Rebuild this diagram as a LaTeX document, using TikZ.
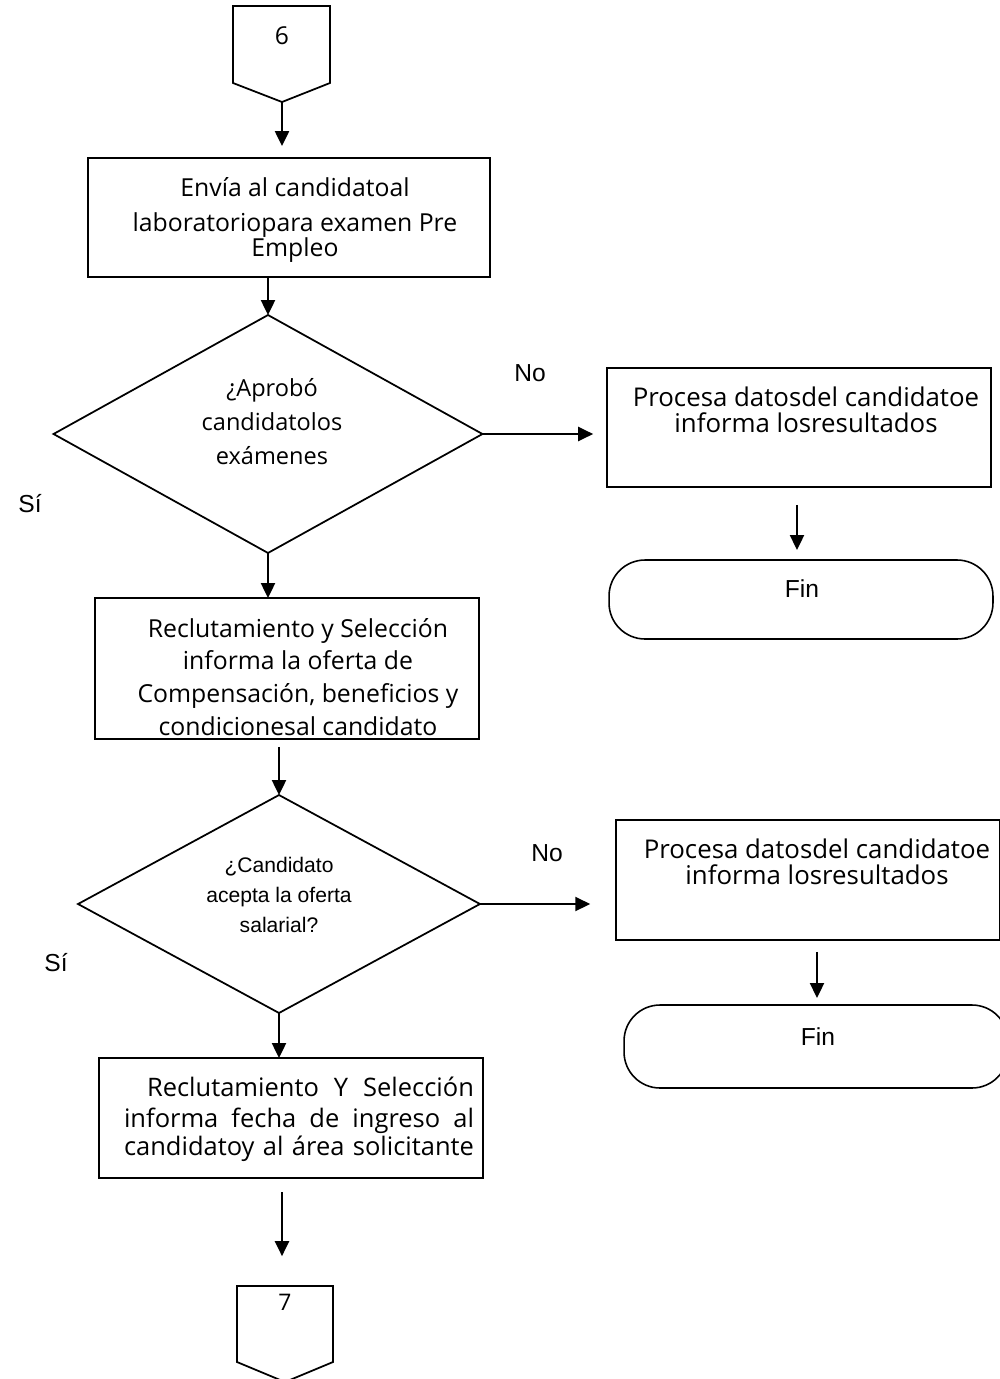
\documentclass[tikz,border=0pt]{standalone}
\usepackage{fontspec}
\setmainfont{Open Sans}
\newfontfamily\arialfont{Liberation Sans}
\usetikzlibrary{shapes.geometric,arrows.meta}

\begin{document}
\begin{tikzpicture}[x=0.02cm,y=-0.02cm,
  box/.style={draw,line width=1.1pt,rectangle,inner sep=0pt,outer sep=0pt},
  decision/.style={draw,line width=1pt,diamond,inner sep=0pt,outer sep=0pt},
  terminal/.style={draw,line width=0.9pt,rectangle,rounded corners=0.72cm,inner sep=0pt,outer sep=0pt},
  pageref/.style={draw,line width=1pt,line join=miter},
  flow/.style={line width=1.1pt,-{Triangle[length=8.5pt,width=8pt]}},
  txt/.style={inner sep=0pt,align=center},
  humtext/.style={txt,font=\fontsize{14.7pt}{14.8pt}\selectfont},
  armtext/.style={txt,font=\arialfont\fontsize{14pt}{16pt}\selectfont}]

\useasboundingbox (0,0) rectangle (1000,1379);

% off-page connector 6
\draw[pageref] (233,6) -- (330,6) -- (330,83) -- (282,102) -- (233,83) -- cycle;
\node[txt,font=\fontsize{14pt}{16pt}\selectfont] (c6) at (282,36) {6};
\coordinate (c6tip) at (282,102);

% first step
\node[box,minimum width=8.04cm,minimum height=2.38cm] (b1) at (289,217.5) {};
\node[txt,font=\fontsize{14.1pt}{19.8pt}\selectfont] (b1t) at (295,220)
  {Envía al candidatoal\\ laboratoriopara examen Pre\\[-5.7pt] Empleo};

% first decision
\node[decision,minimum width=8.58cm,minimum height=4.76cm] (d1) at (268,434) {};
\node[txt,font=\fontsize{13.4pt}{19.3pt}\selectfont] (d1t) at (272,422)
  {¿Aprobó\\candidatolos\\ exámenes};
\node[armtext] (no1) at (530,373) {No};
\node[armtext] (si1) at (30,504) {Sí};

% rejected branch 1
\node[box,minimum width=7.68cm,minimum height=2.38cm] (p1) at (799,427.5) {};
\node[humtext] (p1t) at (806,410) {Procesa datosdel candidatoe\\ informa losresultados};
\node[terminal,minimum width=7.68cm,minimum height=1.58cm] (f1) at (801,599.5) {};
\node[armtext] (f1t) at (802,589) {Fin};

% offer
\node[box,minimum width=7.68cm,minimum height=2.82cm] (b2) at (287,668.5) {};
\node[txt,font=\fontsize{14.1pt}{18.7pt}\selectfont] (b2t) at (298,677)
  {Reclutamiento y Selección\\ informa la oferta de\\ Compensación, beneficios y\\ condicionesal candidato};

% second decision
\node[decision,minimum width=8.04cm,minimum height=4.36cm] (d2) at (279,904) {};
\node[txt,font=\arialfont\fontsize{12pt}{17pt}\selectfont] (d2t) at (279,895)
  {¿Candidato\\ acepta la oferta\\ salarial?};
\node[armtext] (no2) at (547,853) {No};
\node[armtext] (si2) at (56,963) {Sí};

% rejected branch 2
\node[box,minimum width=7.68cm,minimum height=2.4cm] (p2) at (808,880) {};
\node[humtext] (p2t) at (817,862) {Procesa datosdel candidatoe\\ informa losresultados};
\node[terminal,minimum width=7.68cm,minimum height=1.66cm] (f2) at (816,1046.5) {};
\node[armtext] (f2t) at (818,1037) {Fin};

% start date
\node[box,minimum width=7.68cm,minimum height=2.4cm] (b3) at (291,1118) {};
\node[txt,align=right,font=\fontsize{14.5pt}{18pt}\selectfont] (b3t) at (299,1119)
  {\makebox[6.54cm][s]{Reclutamiento Y Selección}\\
   \makebox[7cm][s]{informa fecha de ingreso al}\\[-2.5pt]
   \makebox[7cm][s]{candidatoy al área solicitante}};

% off-page connector 7
\draw[pageref] (237,1286) -- (333,1286) -- (333,1362) -- (285,1382) -- (237,1362) -- cycle;
\node[txt,font=\fontsize{13pt}{15pt}\selectfont] (c7) at (285,1302) {7};
\coordinate (c7top) at (282,1286);

% connectors
\draw[flow,shorten >=6.8pt] (c6tip) -- (c6tip |- b1.north);
\draw[flow] (d1.north |- b1.south) -- (d1.north);
\draw[flow,shorten >=7.9pt] (d1.east) -- (p1.west |- d1.east);
\draw[flow,shorten <=10.2pt,shorten >=5.7pt] (p1.south -| 797,0) -- (f1.north -| 797,0);
\draw[flow] (d1.south) -- (d1.south |- b2.north);
\draw[flow,shorten <=4.5pt] (d2.north |- b2.south) -- (d2.north);
\draw[flow,shorten >=14.7pt] (d2.east) -- (p2.west |- d2.east);
\draw[flow,shorten <=6.8pt,shorten >=4pt] (p2.south -| 817,0) -- (f2.north -| 817,0);
\draw[flow] (d2.south) -- (d2.south |- b3.north);
\draw[flow,shorten <=8pt,shorten >=17pt] (b3.south -| c7top) -- (c7top);

\end{tikzpicture}
\end{document}
